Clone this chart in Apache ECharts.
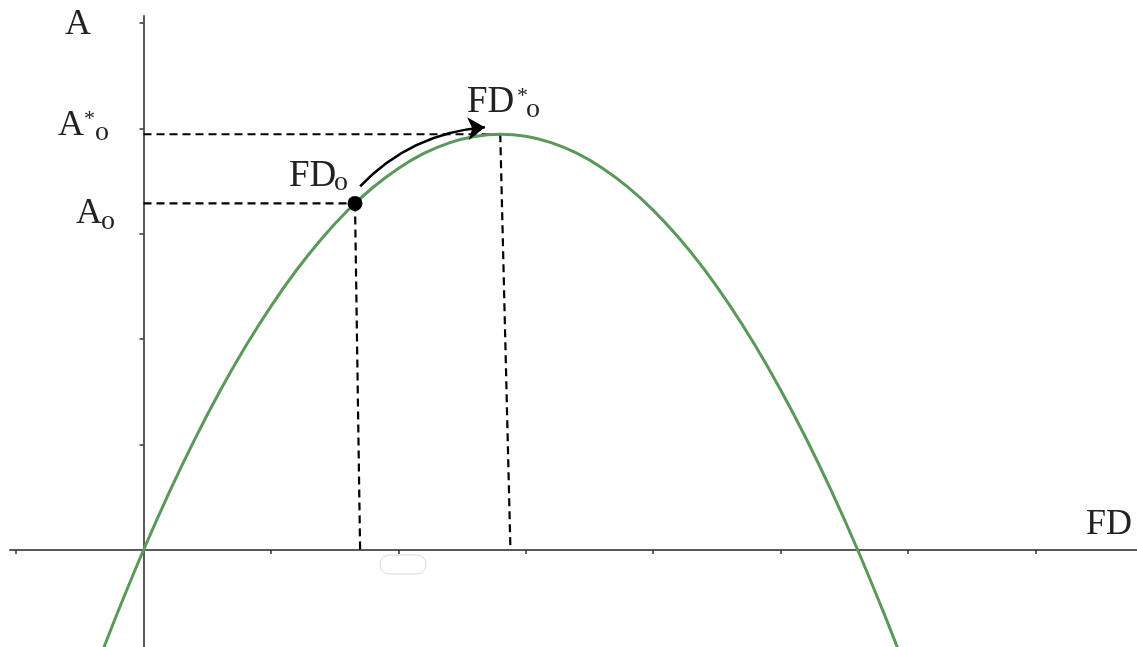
<!DOCTYPE html>
<html>
<head>
<meta charset="utf-8">
<title>FD – A</title>
<script src="https://cdn.jsdelivr.net/npm/echarts@6/dist/echarts.min.js"></script>
<style>
  html, body { margin: 0; padding: 0; background: #fff; }
  #chart { width: 1137px; height: 647px; }
</style>
</head>
<body>
<div id="chart"></div>
<script>
// Curve A(FD): sampled values
const fdValues = [-0.32, -0.2, 0, 0.2, 0.4, 0.6, 0.8, 1.0, 1.2, 1.4, 1.6, 1.8, 2.0, 2.2, 2.4, 2.6, 2.8,
                  3.0, 3.2, 3.4, 3.6, 3.8, 4.0, 4.2, 4.4, 4.6, 4.8, 5.0, 5.2, 5.4, 5.6, 5.8, 5.92];
const aValues  = [-0.952, -0.583, 0, 0.543, 1.045, 1.508, 1.93, 2.312, 2.654, 2.956, 3.218, 3.439, 3.62,
                  3.762, 3.863, 3.923, 3.944, 3.925, 3.865, 3.765, 3.625, 3.445, 3.225, 2.964, 2.664,
                  2.323, 1.942, 1.521, 1.06, 0.558, 0.017, -0.565, -0.933];

// Current point FDo and optimum FD*o
const pointFD0 = [1.66, 3.288];
const pointFDstar = [2.80, 3.944];
// Where the dashed drop lines meet the FD axis
const dropFD0 = 1.70;
const dropFDstar = 2.88;
// Arrow from FDo towards FD*o
const arrowFrom = [1.70, 3.45];
const arrowTo = [2.68, 4.01];

// Tick positions
const xTicks = [-1, 1, 2, 3, 4, 5, 6, 7];
const yTicks = [1, 2, 3, 4, 5];

const curve = fdValues.map((x, i) => [x, aValues[i]]);

const serif = '"Liberation Serif", "DejaVu Serif", serif';
const ink = '#222';
const dash = { color: '#000', width: 2.2, type: [8, 5] };

function label(x, y, text, size) {
  return {
    type: 'text',
    silent: true,
    style: {
      x: x, y: y, text: text,
      font: size + 'px ' + serif,
      fill: ink,
      align: 'left',
      verticalAlign: 'middle'
    }
  };
}

const chart = echarts.init(document.getElementById('chart'), null, { renderer: 'canvas' });

chart.setOption({
  animation: false,
  backgroundColor: '#fff',
  grid: { left: 10, right: 0, top: 16, bottom: 0, containLabel: false },
  xAxis: {
    type: 'value',
    min: -1.048,
    max: 7.798,
    axisLine: { show: true, onZero: true, lineStyle: { color: '#5a5a5a', width: 2 } },
    axisTick: { show: true, length: 4, customValues: xTicks, lineStyle: { color: '#333', width: 1.5 } },
    axisLabel: { show: false },
    splitLine: { show: false }
  },
  yAxis: {
    type: 'value',
    min: -0.92,
    max: 5.066,
    axisLine: { show: true, onZero: true, lineStyle: { color: '#5a5a5a', width: 2 } },
    axisTick: { show: true, length: 4, customValues: yTicks, lineStyle: { color: '#333', width: 1.5 } },
    axisLabel: { show: false },
    splitLine: { show: false }
  },
  series: [
    {
      name: 'A(FD)',
      type: 'line',
      data: curve,
      smooth: 0.3,
      showSymbol: false,
      lineStyle: { color: '#5a995a', width: 3 },
      z: 3
    },
    {
      type: 'line',
      data: [[0, pointFD0[1]], pointFD0],
      showSymbol: false,
      lineStyle: dash,
      z: 2
    },
    {
      type: 'line',
      data: [pointFD0, [dropFD0, 0]],
      showSymbol: false,
      lineStyle: dash,
      z: 2
    },
    {
      type: 'line',
      data: [[0, pointFDstar[1]], pointFDstar],
      showSymbol: false,
      lineStyle: dash,
      z: 2
    },
    {
      type: 'line',
      data: [pointFDstar, [dropFDstar, 0]],
      showSymbol: false,
      lineStyle: dash,
      z: 2
    },
    {
      type: 'lines',
      coordinateSystem: 'cartesian2d',
      data: [{ coords: [arrowFrom, arrowTo] }],
      symbol: ['none', 'arrow'],
      symbolSize: [14, 17],
      lineStyle: { color: '#000', width: 2.5, curveness: 0.19, opacity: 1 },
      z: 5
    },
    {
      type: 'scatter',
      data: [pointFD0],
      symbol: 'circle',
      symbolSize: 15,
      itemStyle: { color: '#000', opacity: 1 },
      z: 6
    }
  ],
  graphic: [
    label(65, 25, 'A', 36),
    label(58, 126, 'A', 36),
    label(84, 119, '*', 22),
    label(95, 133, 'o', 28),
    label(76, 214, 'A', 36),
    label(101, 222, 'o', 28),
    label(289, 176, 'FD', 37),
    label(334, 183, 'o', 28),
    label(467, 102, 'FD', 37),
    label(517, 96, '*', 22),
    label(526, 110, 'o', 28),
    label(1086, 525, 'FD', 36),
    {
      type: 'rect',
      silent: true,
      shape: { x: 380, y: 555, width: 46, height: 19, r: 9 },
      style: { fill: 'none', stroke: '#d9d9d9', lineWidth: 1 }
    }
  ]
});
</script>
</body>
</html>
